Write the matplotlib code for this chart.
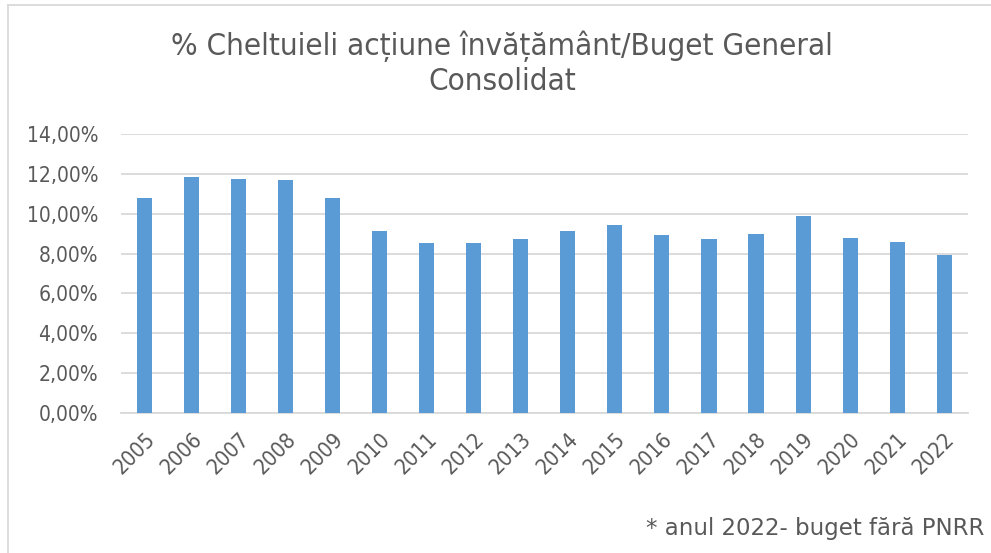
import matplotlib.pyplot as plt
from matplotlib.lines import Line2D
from matplotlib.ticker import FuncFormatter

years = ["2005", "2006", "2007", "2008", "2009", "2010", "2011", "2012", "2013",
         "2014", "2015", "2016", "2017", "2018", "2019", "2020", "2021", "2022"]
share = [10.77, 11.83, 11.75, 11.67, 10.77, 9.11, 8.54, 8.53, 8.74,
         9.13, 9.44, 8.93, 8.71, 8.96, 9.86, 8.79, 8.59, 7.91]
yticks = [0, 2, 4, 6, 8, 10, 12, 14]

plt.rcParams['font.family'] = ['DejaVu Sans']
plt.rcParams['font.stretch'] = 'condensed'
txt = '#595959'
grid = '#d9d9d9'

fig = plt.figure(figsize=(9.91, 5.53), dpi=100)
ax = fig.add_axes([121 / 991, 1 - 413.3 / 553, (967.7 - 121) / 991, (413.3 - 133.7) / 553])

x = list(range(len(years)))
ax.bar(x, share, width=0.32, color='#5b9bd5', zorder=3)

ax.set_xlim(-0.5, len(years) - 0.5)
ax.set_ylim(0, 14)
ax.set_yticks(yticks)
ax.yaxis.set_major_formatter(FuncFormatter(lambda v, p: f"{v:.2f}%".replace('.', ',')))
ax.set_xticks(x)
ax.set_xticklabels(years, rotation=45, ha='right', va='top', rotation_mode='anchor')
ax.tick_params(length=0, labelsize=15, colors=txt)
ax.tick_params(axis='x', labelsize=15.5, pad=11)
ax.tick_params(axis='y', pad=16.5)
ax.grid(axis='y', color=grid, linewidth=1.3, zorder=0)
for s in ['top', 'right', 'left']:
    ax.spines[s].set_visible(False)
ax.spines['bottom'].set_color(grid)
ax.spines['bottom'].set_linewidth(1.3)

fig.text(502 / 991, 1 - 63 / 553, "% Cheltuieli acțiune învățământ/Buget General\nConsolidat",
         ha='center', va='center', fontsize=22.5, color=txt, linespacing=1.22)
fig.text(984 / 991, 1 - 529 / 553, "* anul 2022- buget fără PNRR",
         ha='right', va='center', fontsize=16.5, color=txt, fontstretch='normal')

# chart frame (left and top edges visible)
fx, fy = 7.5 / 991, 1 - 5 / 553
fig.add_artist(Line2D([fx, fx], [0, fy], transform=fig.transFigure, color=grid, lw=1.3))
fig.add_artist(Line2D([fx, 1], [fy, fy], transform=fig.transFigure, color=grid, lw=1.3))

fig.savefig('out.png', dpi=100)
